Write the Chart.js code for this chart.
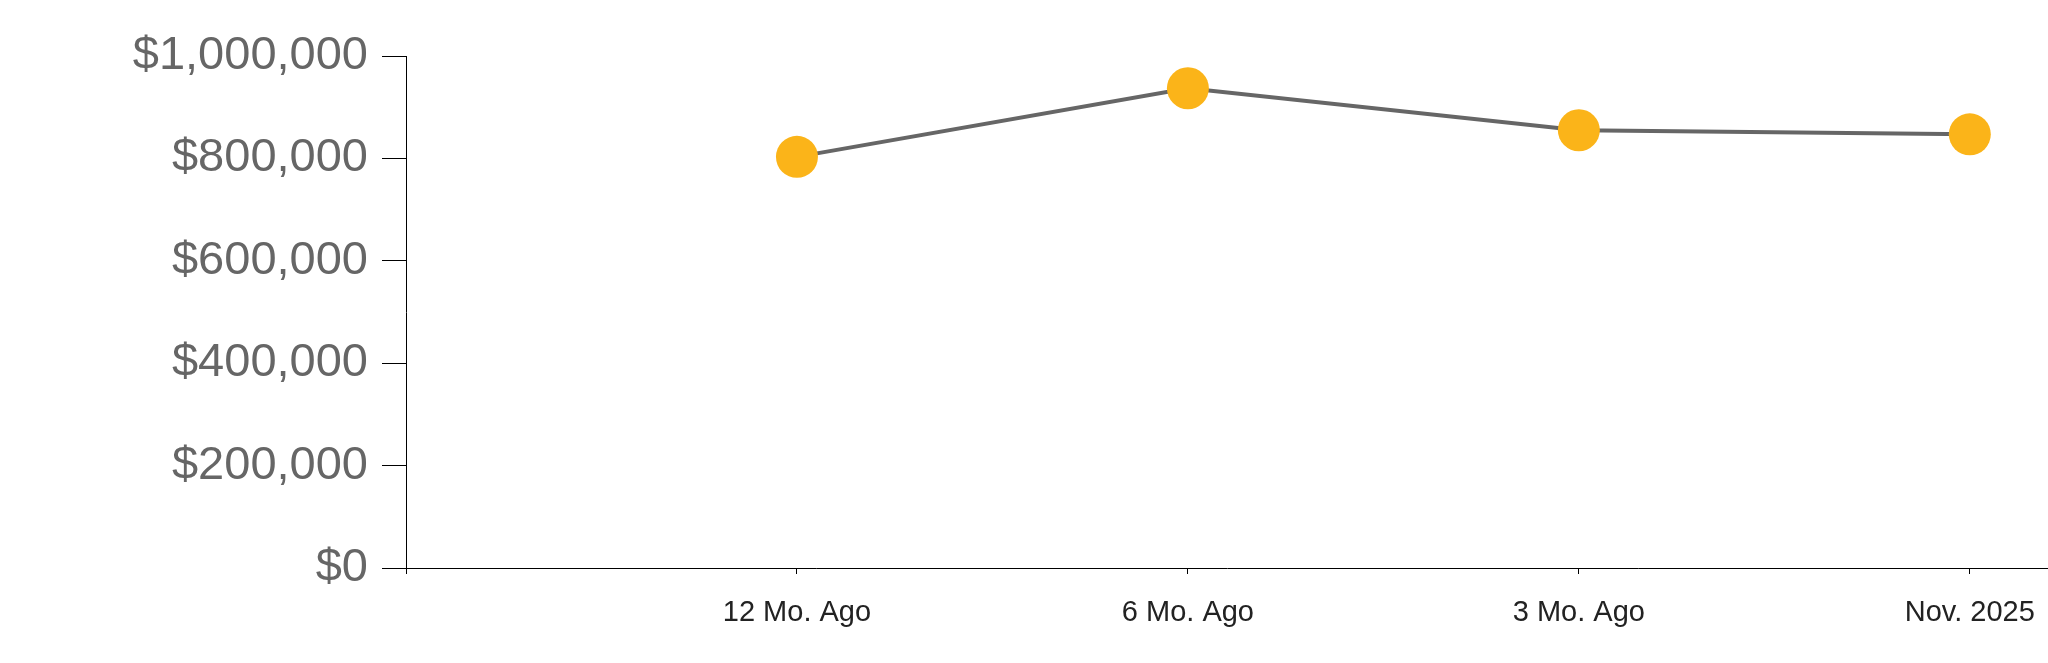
<!DOCTYPE html>
<html>
<head>
<meta charset="utf-8">
<script src="https://cdn.jsdelivr.net/npm/chart.js@4"></script>
<style>
    html, body { margin: 0; padding: 0; background: #fff; }
    #wrap { width: 2048px; height: 663px; position: relative; }
</style>
</head>
<body>
<div id="wrap"><canvas id="valueChart"></canvas></div>
<script>
const periods = ['12 Mo. Ago', '6 Mo. Ago', '3 Mo. Ago', 'Nov. 2025'];
const values = [803000, 937000, 855000, 847000];
const yTicks = [0, 200000, 400000, 600000, 800000, 1000000];

const fontFamily = '"Liberation Sans", Arial, Helvetica, sans-serif';

new Chart(document.getElementById('valueChart'), {
    type: 'line',
    data: {
        datasets: [{
            data: values.map((v, i) => ({ x: i + 1, y: v })),
            borderColor: '#666666',
            borderWidth: 4,
            tension: 0,
            pointRadius: 21,
            pointHoverRadius: 21,
            pointBackgroundColor: '#fbb419',
            pointBorderColor: '#fbb419',
            pointBorderWidth: 0,
            clip: false
        }]
    },
    options: {
        responsive: true,
        maintainAspectRatio: false,
        animation: false,
        layout: { autoPadding: false, padding: { top: 56, right: 0, bottom: 0, left: 0 } },
        plugins: {
            legend: { display: false },
            tooltip: { enabled: false }
        },
        scales: {
            x: {
                type: 'linear',
                min: 0,
                max: 4.2,
                afterBuildTicks: scale => {
                    scale.ticks = [0, 1, 2, 3, 4].map(v => ({ value: v }));
                },
                afterFit: scale => {
                    scale.height = 95;
                    scale.paddingLeft = 0;
                    scale.paddingRight = 0;
                },
                grid: { drawOnChartArea: false, tickLength: 6, color: '#000' },
                border: { color: '#000', width: 1 },
                ticks: {
                    autoSkip: false,
                    maxRotation: 0,
                    padding: 22,
                    color: '#222',
                    font: { family: fontFamily, size: 29 },
                    callback: v => periods[v - 1] || ''
                }
            },
            y: {
                min: 0,
                max: 1000000,
                afterBuildTicks: scale => {
                    scale.ticks = yTicks.map(v => ({ value: v }));
                },
                afterFit: scale => { scale.width = 406; },
                grid: { drawOnChartArea: false, tickLength: 24, color: '#000' },
                border: { color: '#000', width: 1 },
                ticks: {
                    padding: 14,
                    color: '#666666',
                    font: { family: fontFamily, size: 47 },
                    callback: v => '$' + v.toLocaleString('en-US')
                }
            }
        }
    }
});
</script>
</body>
</html>
